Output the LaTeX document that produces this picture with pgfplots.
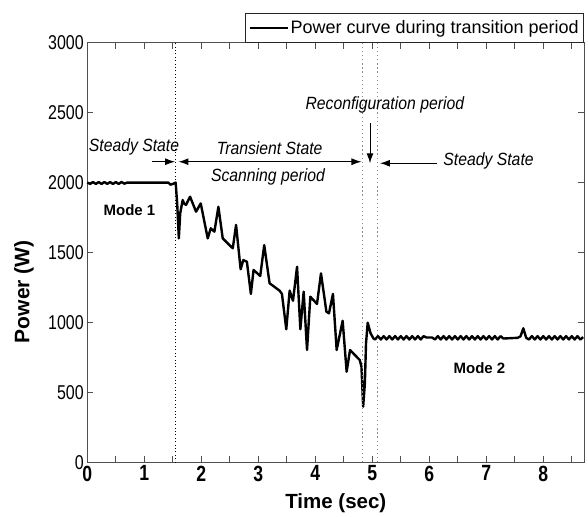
\documentclass[border=0pt]{standalone}
\usepackage{pgfplots}
\pgfplotsset{compat=1.18}
\usetikzlibrary{arrows.meta}
\usepackage{fontspec}
\setmainfont{Liberation Sans}
\newfontfamily\condfont{Liberation Sans}[FakeStretch=0.8]
\newfontfamily\annfont{Liberation Sans}[FakeStretch=0.89]
\definecolor{axgray}{RGB}{80,80,80}
\definecolor{dotgray}{RGB}{140,140,140}
\begin{document}
\begin{tikzpicture}
\useasboundingbox (-87.3pt,-53.7pt) rectangle (500.7pt,462.3pt);
\begin{axis}[
  at={(0pt,0pt)}, anchor=south west,
  scale only axis, width=497pt, height=419.6pt,
  xmin=0, xmax=8.72, ymin=0, ymax=3000,
  xtick={0,1,...,8}, minor xtick={0.5,1.5,...,8.5},
  ytick={0,500,...,3000},
  tick align=inside,
  major tick length=6pt, minor tick length=6pt,
  axis line style={axgray, line width=1.1pt},
  every tick/.style={axgray, line width=1pt},
  /pgf/number format/assume math mode=true,
  scaled y ticks=false,
  yticklabel style={font=\condfont\fontsize{20}{20}\selectfont, /pgf/number format/1000 sep={}},
  xticklabel style={font=\condfont\bfseries\fontsize{22}{22}\selectfont},
  xlabel={Time (sec)}, ylabel={Power (W)},
  xlabel style={font=\bfseries\fontsize{20.5}{21}\selectfont, at={(axis description cs:0.5,-0.097)}, anchor=center},
  ylabel style={font=\bfseries\fontsize{21}{21}\selectfont, at={(axis description cs:-0.1274,0.4066)}, anchor=center},
  legend style={at={(rel axis cs:1,1)}, anchor=south east, draw=black!85, line width=1pt,
    font=\fontsize{18}{20}\selectfont, inner xsep=3pt, inner ysep=5pt},
  legend image code/.code={\draw[black, line width=2pt] (0pt,0pt) -- (38pt,0pt);},
  clip=false,
]
\addplot[black, line width=2.4pt, line join=round] coordinates {
(0,2000) (0.05,1990) (0.1,2004) (0.15,1990) (0.2,2004) (0.25,1990) (0.3,2004) (0.35,1990)
(0.4,2004) (0.45,1990) (0.5,2004) (0.55,1990) (0.6,2004) (0.65,1992) (0.7,2000)
(1.0,2000) (1.42,2000) (1.46,1985) (1.5,1990) (1.55,2000)
(1.577,1851) (1.606,1601) (1.63,1780) (1.673,1875) (1.70,1850) (1.732,1840)
(1.803,1899) (1.908,1792) (1.99,1851) (2.113,1601) (2.166,1673) (2.23,1649)
(2.30,1827) (2.376,1601) (2.552,1530) (2.61,1697) (2.69,1380) (2.737,1446)
(2.80,1434) (2.87,1204) (2.917,1375) (3.034,1332) (3.104,1553) (3.198,1280)
(3.374,1227) (3.415,1204) (3.491,951) (3.55,1227) (3.609,1155) (3.68,1398)
(3.738,951) (3.796,1220) (3.855,803) (3.913,1184) (4.03,1132) (4.10,1351)
(4.195,1077) (4.24,1065) (4.31,1204) (4.375,803) (4.48,1012) (4.55,648)
(4.61,803) (4.78,731) (4.81,684) (4.84,398) (4.87,565) (4.89,851) (4.92,998)
(4.97,922) (5.02,886)
(5.05,878) (5.10,902) (5.15,878) (5.20,902) (5.25,878) (5.30,902) (5.35,878)
(5.40,902) (5.45,878) (5.50,902) (5.55,878) (5.60,902) (5.65,878) (5.70,902)
(5.75,878) (5.80,902) (5.85,878) (5.90,902) (5.95,892) (6.05,892) (6.10,878)
(6.15,902) (6.20,878) (6.25,902) (6.30,878) (6.35,902) (6.40,878) (6.45,902)
(6.50,878) (6.55,902) (6.60,878) (6.65,902) (6.70,878) (6.75,902) (6.80,878)
(6.85,902) (6.90,878) (6.95,902) (7.00,878) (7.05,902) (7.10,878) (7.15,902)
(7.20,878) (7.25,902) (7.30,885) (7.55,890) (7.60,900) (7.65,958) (7.70,890)
(7.75,878) (7.80,902) (7.85,878) (7.90,902) (7.95,878) (8.00,902) (8.05,878)
(8.10,902) (8.15,878) (8.20,902) (8.25,878) (8.30,902) (8.35,878) (8.40,902)
(8.45,878) (8.50,902) (8.55,878) (8.60,902) (8.65,878) (8.70,895)
};
\addlegendentry{Power curve during transition period}
\addplot[forget plot, black, line width=0.8pt, dash pattern=on 0.8pt off 2.6pt] coordinates {(1.551,0) (1.551,3000)};
\addplot[forget plot, dotgray, line width=1.3pt, dash pattern=on 1.3pt off 2.8pt] coordinates {(4.825,0) (4.825,3000)};
\addplot[forget plot, dotgray, line width=1.3pt, dash pattern=on 1.3pt off 2.8pt] coordinates {(5.088,0) (5.088,3000)};
% annotations
\begin{scope}[every node/.style={font=\annfont\itshape\fontsize{17.7}{18}\selectfont, inner sep=0pt}]
\node at (axis cs:0.82,2254) {Steady State};
\node at (axis cs:3.2,2247) {Transient State};
\node at (axis cs:3.17,2042) {Scanning period};
\node at (axis cs:5.22,2555) {Reconfiguration period};
\node at (axis cs:7.04,2154) {Steady State};
\end{scope}
\node[font=\bfseries\fontsize{15}{16}\selectfont] at (axis cs:0.74,1804) {Mode 1};
\node[font=\bfseries\fontsize{15}{16}\selectfont] at (axis cs:6.88,676) {Mode 2};
\draw[black, line width=1pt, -{Latex[length=10pt,width=7pt]}] (axis cs:1.13,2149) -- (axis cs:1.54,2149);
\draw[black, line width=1pt, {Latex[length=10pt,width=7pt]}-{Latex[length=10pt,width=7pt]}] (axis cs:1.60,2149) -- (axis cs:4.81,2149);
\draw[black, line width=1pt, -{Latex[length=10pt,width=7pt]}] (axis cs:4.96,2424) -- (axis cs:4.96,2138);
\draw[black, line width=1pt, -{Latex[length=10pt,width=7pt]}] (axis cs:6.13,2138) -- (axis cs:5.135,2138);
\end{axis}
\end{tikzpicture}
\end{document}
